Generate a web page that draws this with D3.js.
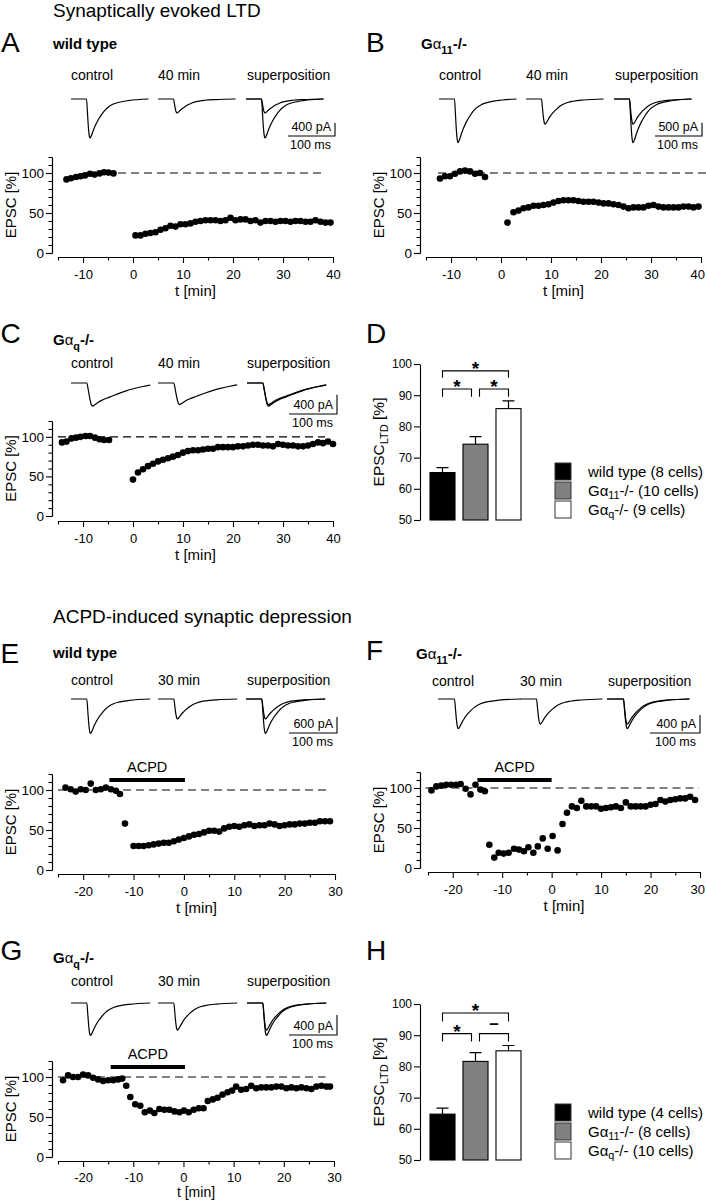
<!DOCTYPE html>
<html><head><meta charset="utf-8">
<script src="https://cdn.jsdelivr.net/npm/d3@7"></script>
<style>
body{margin:0;background:#fff}
svg{display:block}
text{font-family:"Liberation Sans",Arial,Helvetica,sans-serif;fill:#000}
</style>
</head><body>
<svg id="fig" width="706" height="1200"></svg>
<script>
// ---------------- DATA ----------------
const sectionTitles = ["Synaptically evoked LTD", "ACPD-induced synaptic depression"];
const genotypes = [["wild type"], ["Gα", "11", "-/-"], ["Gα", "q", "-/-"]];
const traceLabelsLTD = ["control", "40 min", "superposition"];
const traceLabelsACPD = ["control", "30 min", "superposition"];
const scaleBarMs = 100;

// EPSC waveform samples (time in ms from trace start, fraction of peak amplitude)
const fastShapeT = [0, 33, 35, 37, 39, 40.5, 43, 47, 51, 58, 65, 72, 79, 90, 100, 122, 165];
const fastShapeF = [0, 0, 0.35, 0.72, 0.95, 1, 0.95, 0.82, 0.70, 0.53, 0.40, 0.29, 0.21, 0.13, 0.09, 0.04, 0];
const slowShapeT = [0, 33, 36, 39, 42, 45, 50, 57, 65, 75, 85, 100, 115, 130, 150, 165];
const slowShapeF = [0, 0, 0.3, 0.65, 0.92, 1, 0.93, 0.83, 0.74, 0.65, 0.57, 0.45, 0.34, 0.25, 0.15, 0.09];

// trace amplitudes in pA: [control, late]
const A_amp = [1200, 430], B_amp = [1640, 950], C_amp = [480, 450];
const E_amp = [1290, 750], F_amp = [660, 560], G_amp = [650, 545];
// scale bar amplitudes (pA)
const A_bar = 400, B_bar = 500, C_bar = 400, E_bar = 600, F_bar = 400, G_bar = 400;

// axis ticks
const ltdTicks = [-10, 0, 10, 20, 30, 40], ltdMinor = [-15, -5, 5, 15, 25, 35];
const acpdTicks = [-20, -10, 0, 10, 20, 30], acpdMinor = [-25, -15, -5, 5, 15, 25];
const epscTicks = [0, 50, 100], epscMinor = [10, 20, 30, 40, 60, 70, 80, 90, 110, 120];
const ltdBarTicks = [50, 60, 70, 80, 90, 100];

// time courses: t [min], EPSC [%]
const A_preT = [-13.3, -12.4, -11.4, -10.5, -9.6, -8.6, -7.7, -6.7, -5.8, -4.9, -3.9];
const A_preV = [92, 93.5, 95, 96, 97, 99, 98, 99.5, 101, 100.5, 99.5];
const A_postT = [0.5, 1.5, 2.5, 3.5, 4.5, 5.5, 6.5, 7.5, 8.5, 9.5, 10.5, 11.5, 12.5, 13.5, 14.5, 15.5, 16.5, 17.5, 18.5, 19.5, 20.5, 21.5, 22.5, 23.5, 24.5, 25.5, 26.5, 27.5, 28.5, 29.5, 30.5, 31.5, 32.5, 33.5, 34.5, 35.5, 36.5, 37.5, 38.5, 39.5];
const A_postV = [22, 22, 24, 25, 26, 29, 31, 34, 33, 36, 36, 37, 39, 40, 41, 41, 41, 40, 41, 44, 41, 42, 42, 40, 41, 38, 40, 40, 39, 40, 40, 39, 40, 40, 39, 39, 41, 39, 38, 38];

const B_preT = [-12.2, -11.2, -10.2, -9.2, -8.2, -7.2, -6.2, -5.2, -4.2, -3.2];
const B_preV = [93, 96, 96, 99, 102, 103, 102, 99, 100, 95];
const B_postT = [1.3, 2.5, 3.5, 4.5, 5.5, 6.5, 7.5, 8.5, 9.5, 10.5, 11.5, 12.5, 13.5, 14.5, 15.5, 16.5, 17.5, 18.5, 19.5, 20.5, 21.5, 22.5, 23.5, 24.5, 25.5, 26.5, 27.5, 28.5, 29.5, 30.5, 31.5, 32.5, 33.5, 34.5, 35.5, 36.5, 37.5, 38.5, 39.5];
const B_postV = [38, 51, 53, 56, 57, 59, 59, 60, 61, 63, 65, 66, 66, 66, 65, 64, 64, 64, 63, 62, 62, 61, 60, 58, 56, 57, 57, 57, 59, 60, 58, 57, 57, 57, 57, 58, 58, 57, 58];

const C_preT = [-14.2, -13.3, -12.3, -11.4, -10.5, -9.5, -8.6, -7.6, -6.7, -5.8, -4.8];
const C_preV = [93, 94, 98, 99, 100, 101, 101, 99, 97, 96, 96];
const C_postT = [0, 1, 2, 3, 4, 5, 6, 7, 8, 9, 10, 11, 12, 13, 14, 15, 16, 17, 18, 19, 20, 21, 22, 23, 24, 25, 26, 27, 28, 29, 30, 31, 32, 33, 34, 35, 36, 37, 38, 39, 40];
const C_postV = [46, 55, 59, 63, 66, 69, 71, 73, 75, 77, 80, 82, 83, 83, 84, 85, 85, 87, 87, 87, 87, 88, 88, 89, 90, 90, 89, 89, 88, 91, 90, 89, 89, 88, 88, 89, 91, 93, 92, 94, 91];

const E_preT = [-23.5, -22.5, -21.5, -20.5, -19.5, -18.5, -17.5, -16.5, -15.5, -14.5, -13.5, -12.7];
const E_preV = [103, 101, 98, 101, 100, 108, 100, 101, 103, 101, 99, 95];
const E_postT = [-11.7, -10, -9, -8, -7, -6, -5, -4, -3, -2, -1, 0, 1, 2, 3, 4, 5, 6, 7, 8, 9, 10, 11, 12, 13, 14, 15, 16, 17, 18, 19, 20, 21, 22, 23, 24, 25, 26, 27, 28, 29];
const E_postV = [58, 30, 30, 30, 31, 32, 33, 34, 34, 36, 38, 40, 42, 44, 45, 47, 49, 49, 48, 52, 54, 55, 54, 56, 57, 55, 56, 56, 58, 57, 55, 56, 57, 57, 58, 58, 59, 59, 61, 61, 61];

const F_preT = [-24.3, -23.3, -22.3, -21.3, -20.3, -19.3, -18.4, -17.4, -16.4, -15.4, -14.4, -13.5];
const F_preV = [97, 102, 103, 104, 104, 104, 105, 99, 92, 104, 98, 96];
const F_postT = [-12.6, -11.6, -10.7, -9.7, -8.7, -7.6, -6.6, -5.6, -4.7, -3.7, -2.8, -1.8, -0.8, 0.2, 1.2, 2.2, 3.1, 4.1, 5.1, 6.0, 7, 8, 9, 10, 11, 12, 13, 14, 15, 16, 17, 18, 19, 20, 21, 22, 23, 24, 25, 26, 27, 28, 29];
const F_postV = [29, 13, 19, 18, 19, 24, 23, 21, 26, 19, 27, 37, 24, 40, 22, 55, 69, 77, 75, 84, 77, 77, 77, 74, 75, 76, 77, 75, 82, 77, 77, 77, 77, 79, 80, 85, 83, 85, 86, 87, 87, 89, 85];

const G_preT = [-24, -23, -22, -21, -20, -19, -18, -17, -16, -15, -14, -13, -12.2];
const G_preV = [96, 102, 100, 100, 103, 102, 99, 97, 95, 96, 96, 97, 98];
const G_postT = [-11.4, -10.6, -9.6, -8.6, -7.7, -6.7, -5.8, -4.8, -3.8, -2.8, -1.8, -0.8, 0.1, 1.05, 2.05, 3.05, 4.0, 4.85, 5.85, 6.8, 7.8, 8.8, 9.7, 10.5, 11.5, 12.5, 13.5, 14.5, 15.5, 16.5, 17.5, 18.5, 19.5, 20.5, 21.5, 22.5, 23.5, 24.5, 25.5, 26.5, 27.5, 28.5, 29.2];
const G_postV = [89, 75, 66, 64, 56, 58, 55, 60, 59, 59, 57, 56, 58, 56, 59, 61, 61, 70, 72, 74, 78, 81, 83, 88, 84, 85, 89, 86, 87, 87, 87, 88, 88, 86, 87, 86, 87, 86, 85, 88, 89, 88, 88];

// reference (100 %) dashed line extent [min]
const A_ref = [-3, 38.5], B_ref = [-12.6, 41], C_ref = [-15, 38.4];
const E_ref = [-25, 28.3], F_ref = [-25.5, 29.8], G_ref = [-25, 28.3];
// ACPD application [min]
const E_acpd = [-14.8, 0.2], F_acpd = [-15, 0], G_acpd = [-14.5, 0.3];

// summary bars
const D_mean = [65.2, 74.3, 85.7], D_sem = [1.6, 2.4, 2.5], D_cells = [8, 10, 9];
const H_mean = [64.7, 81.6, 85.0], H_sem = [1.9, 2.8, 1.7], H_cells = [4, 8, 10];
// significance brackets: [from, to, top value, end value, label]
const D_sig = [[0, 2, 97.8, 95.6, "*"], [0, 1, 92, 89.5, "*"], [1, 2, 92, 89.5, "*"]];
const H_sig = [[0, 2, 97.1, 94.4, "*"], [0, 1, 90.5, 88, "*"], [1, 2, 90.5, 88, "–"]];
const barFills = ["#000000", "#808080", "#ffffff"];

// ---------------- DRAWING ----------------
const FONT = '"Liberation Sans", Arial, Helvetica, sans-serif';
const svg = d3.select("#fig");
const W = 706;

function genoText(g, x, y, parts, fs, bold, subDy) {
  const t = g.append("text").attr("x", x).attr("y", y).attr("font-size", fs)
    .attr("font-weight", bold ? "bold" : "normal");
  if (parts.length === 1) { t.append("tspan").text(parts[0]); return t; }
  t.append("tspan").text(parts[0][0]);
  t.append("tspan").attr("font-weight", "normal").text(parts[0].slice(1));
  t.append("tspan").attr("font-size", fs * 0.72).attr("dy", subDy).text(parts[1]);
  t.append("tspan").attr("dy", -subDy).text(parts[2]);
  return t;
}

function styleAxis(sel, fs) {
  sel.selectAll("path,line").attr("stroke", "#000").attr("stroke-width", 1.1);
  sel.selectAll("text").attr("font-size", fs).attr("font-family", FONT).attr("fill", "#000");
}

function keepInside(sel) {
  sel.selectAll("text").each(function () {
    const b = this.getBBox();
    const m = this.getCTM();
    const right = m.e + b.x + b.width;
    if (right > W - 1) d3.select(this).attr("dx", (W - 1 - right));
  });
}

function linePanel(p) {
  const g = svg.append("g");
  g.append("text").attr("x", p.letterXY[0]).attr("y", p.letterXY[1]).attr("font-size", 28).text(p.letter);
  genoText(g, p.genoXY[0], p.genoXY[1], p.geno, 15, true, 4.5);
  p.traceLabels.forEach((s, i) =>
    g.append("text").attr("x", p.labX[i]).attr("y", p.labY).attr("font-size", 14).text(s));

  // traces
  const tx = d3.scaleLinear().domain([0, scaleBarMs]).range([0, p.sbH]);
  const ty = d3.scaleLinear().domain([0, p.sbPA]).range([0, p.sbV]);
  const pts = d3.zip(p.shape[0], p.shape[1]);
  const mk = (x0, amp) => d3.line().x(d => x0 + tx(d[0])).y(d => p.trBase + ty(amp * d[1]))
    .curve(d3.curveMonotoneX)(pts);
  const tr = [[p.trX[0], p.amp[0]], [p.trX[1], p.amp[1]], [p.trX[2], p.amp[0]], [p.trX[2], p.amp[1]]];
  g.selectAll(null).data(tr).join("path").attr("d", d => mk(d[0], d[1]))
    .attr("fill", "none").attr("stroke", "#000").attr("stroke-width", 1.2);
  // scale bar
  g.append("path").attr("d", `M${p.sbX - p.sbH},${p.sbY}H${p.sbX}V${p.sbY - p.sbV}`)
    .attr("fill", "none").attr("stroke", "#000").attr("stroke-width", 1.1);
  g.append("text").attr("x", p.sbX - 4).attr("y", p.sbY - 5).attr("text-anchor", "end")
    .attr("font-size", 12.5).text(p.sbPA + " pA");
  g.append("text").attr("x", p.sbX - 4).attr("y", p.sbY + 13).attr("text-anchor", "end")
    .attr("font-size", 12.5).text(scaleBarMs + " ms");

  // plot
  const x = d3.scaleLinear().domain(p.xDom).range(p.xR);
  const y = d3.scaleLinear().domain([0, 120]).range([p.y0, p.y120]);
  const fmt = d => String(d);
  const ya = g.append("g").attr("transform", `translate(${p.yAxisX},0)`)
    .call(d3.axisLeft(y).tickValues(epscTicks).tickSize(6).tickSizeOuter(0).tickPadding(2).tickFormat(fmt));
  styleAxis(ya, 13.5);
  const ym = g.append("g").attr("transform", `translate(${p.yAxisX},0)`)
    .call(d3.axisLeft(y).tickValues(epscMinor).tickSize(3.5).tickSizeOuter(0).tickFormat(""));
  styleAxis(ym, 12);
  const xa = g.append("g").attr("transform", `translate(0,${p.xAxisY})`)
    .call(d3.axisBottom(x).tickValues(p.xTicks).tickSize(6).tickSizeOuter(0).tickPadding(p.tickPad || 7).tickFormat(fmt));
  styleAxis(xa, 13);
  keepInside(xa);
  const xm = g.append("g").attr("transform", `translate(0,${p.xAxisY})`)
    .call(d3.axisBottom(x).tickValues(p.xMinor).tickSize(3.5).tickSizeOuter(0).tickFormat(""));
  styleAxis(xm, 12);

  g.append("text").attr("transform", `translate(${p.yAxisX - 36},${(p.y0 + p.y120) / 2}) rotate(-90)`)
    .attr("text-anchor", "middle").attr("font-size", 15).text("EPSC [%]");
  g.append("text").attr("x", (p.xR[0] + p.xR[1]) / 2).attr("y", p.tY || (p.xAxisY + 39))
    .attr("text-anchor", "middle").attr("font-size", p.tFs || 15).text("t [min]");

  // reference line
  g.append("line").attr("x1", x(p.ref[0])).attr("x2", Math.min(x(p.ref[1]), W)).attr("y1", y(100)).attr("y2", y(100))
    .attr("stroke", "#000").attr("stroke-width", 1.1).attr("stroke-dasharray", "8,5");

  if (p.acpd) {
    g.append("line").attr("x1", x(p.acpd[0])).attr("x2", x(p.acpd[1])).attr("y1", p.acpdY).attr("y2", p.acpdY)
      .attr("stroke", "#000").attr("stroke-width", 4);
    g.append("text").attr("x", (x(p.acpd[0]) + x(p.acpd[1])) / 2).attr("y", p.acpdY - 8)
      .attr("text-anchor", "middle").attr("font-size", 14.5).text("ACPD");
  }

  const data = d3.zip(p.preT, p.preV).concat(d3.zip(p.postT, p.postV));
  g.selectAll(null).data(data).join("circle")
    .attr("cx", d => x(d[0])).attr("cy", d => y(d[1])).attr("r", 3.3).attr("fill", "#000");
}

function barPanel(p) {
  const g = svg.append("g");
  g.append("text").attr("x", p.letterXY[0]).attr("y", p.letterXY[1]).attr("font-size", 28).text(p.letter);
  const y = d3.scaleLinear().domain([50, 100]).range([p.y50, p.y100]);
  const x = d3.scaleBand().domain([0, 1, 2]).range(p.band).paddingInner(0.242).paddingOuter(0);
  const ya = g.append("g").attr("transform", `translate(${p.yAxisX},0)`)
    .call(d3.axisLeft(y).tickValues(ltdBarTicks).tickSize(6).tickSizeOuter(0).tickPadding(2));
  styleAxis(ya, 12);
  const yl = g.append("text").attr("transform", `translate(${p.yAxisX - 36},${(p.y50 + p.y100) / 2}) rotate(-90)`)
    .attr("text-anchor", "middle").attr("font-size", 15.5);
  yl.append("tspan").text("EPSC");
  yl.append("tspan").attr("font-size", 11).attr("dy", 4).text("LTD");
  yl.append("tspan").attr("dy", -4).text(" [%]");

  const cx = i => x(i) + x.bandwidth() / 2;
  // error bars
  g.selectAll(null).data(p.mean).join("path")
    .attr("d", (d, i) => `M${cx(i)},${y(d)}V${y(d + p.sem[i])}M${cx(i) - 6},${y(d + p.sem[i])}H${cx(i) + 6}`)
    .attr("stroke", "#000").attr("stroke-width", 1.2).attr("fill", "none");
  g.selectAll(null).data(p.mean).join("rect")
    .attr("x", (d, i) => x(i)).attr("width", x.bandwidth())
    .attr("y", d => y(d)).attr("height", d => y(50) - y(d))
    .attr("fill", (d, i) => barFills[i]).attr("stroke", "#000").attr("stroke-width", 1.1);

  // significance
  p.sig.forEach(s => {
    let x1 = cx(s[0]), x2 = cx(s[1]);
    if (s[1] - s[0] === 1) { if (s[0] === 1) x1 += 4; if (s[1] === 1) x2 -= 4; }
    g.append("path").attr("d", `M${x1},${y(s[3])}V${y(s[2])}H${x2}V${y(s[3])}`)
      .attr("fill", "none").attr("stroke", "#000").attr("stroke-width", 1.1);
    const star = s[4] === "*";
    g.append("text").attr("x", (x1 + x2) / 2).attr("y", star ? y(s[2]) + 4 : y(s[2]) - 5)
      .attr("text-anchor", "middle").attr("font-size", star ? 19 : 17).attr("font-weight", "bold").text(s[4]);
  });

  // legend
  genotypes.forEach((gt, i) => {
    const ty = p.legTop + i * 19;
    g.append("rect").attr("x", p.legX).attr("y", ty).attr("width", 16).attr("height", 17)
      .attr("fill", barFills[i]).attr("stroke", "#333").attr("stroke-width", 1);
    const t = genoText(g, p.legX + 33, ty + 14, gt, 15, false, 3);
    t.append("tspan").text(` (${p.cells[i]} cells)`);
  });
}

// section titles
svg.append("text").attr("x", 53).attr("y", 17).attr("font-size", 19).text(sectionTitles[0]);
svg.append("text").attr("x", 53).attr("y", 623).attr("font-size", 19).text(sectionTitles[1]);

const fast = [fastShapeT, fastShapeF], slow = [slowShapeT, slowShapeF];

linePanel({letter: "A", letterXY: [1, 52], geno: genotypes[0], genoXY: [53, 49],
  traceLabels: traceLabelsLTD, labY: 80, labX: [71, 158, 247], trBase: 99, trX: [71, 158, 246],
  shape: fast, amp: A_amp, sbPA: A_bar, sbX: 335, sbY: 136, sbV: 13, sbH: 47,
  xDom: [-15, 40], xR: [58, 333], xTicks: ltdTicks, xMinor: ltdMinor, y0: 253, y120: 157, yAxisX: 52, xAxisY: 257,
  ref: A_ref, preT: A_preT, preV: A_preV, postT: A_postT, postV: A_postV});

linePanel({letter: "B", letterXY: [366, 52], geno: genotypes[1], genoXY: [421, 49],
  traceLabels: traceLabelsLTD, labY: 80, labX: [439, 526, 615], trBase: 99, trX: [439, 526, 614],
  shape: fast, amp: B_amp, sbPA: B_bar, sbX: 702, sbY: 136, sbV: 13.3, sbH: 47,
  xDom: [-15, 40], xR: [426, 701], xTicks: ltdTicks, xMinor: ltdMinor, y0: 253, y120: 157, yAxisX: 420, xAxisY: 257,
  ref: B_ref, preT: B_preT, preV: B_preV, postT: B_postT, postV: B_postV});

linePanel({letter: "C", letterXY: [0.5, 343], geno: genotypes[2], genoXY: [53, 345],
  traceLabels: traceLabelsLTD, labY: 368, labX: [71, 158, 247], trBase: 383, trX: [71, 158, 247],
  shape: slow, amp: C_amp, sbPA: C_bar, sbX: 337, sbY: 414, sbV: 19.3, sbH: 48,
  xDom: [-15, 40], xR: [58, 333], xTicks: ltdTicks, xMinor: ltdMinor, y0: 516, y120: 421, yAxisX: 52, xAxisY: 521,
  ref: C_ref, preT: C_preT, preV: C_preV, postT: C_postT, postV: C_postV});

barPanel({letter: "D", letterXY: [366, 343], yAxisX: 420, y50: 520, y100: 364, band: [430, 521],
  mean: D_mean, sem: D_sem, sig: D_sig, legX: 555, legTop: 463, cells: D_cells});

linePanel({letter: "E", letterXY: [0.5, 663], geno: genotypes[0], genoXY: [53, 658],
  traceLabels: traceLabelsACPD, labY: 685, labX: [71, 158, 247], trBase: 699, trX: [71, 158, 246],
  shape: fast, amp: E_amp, sbPA: E_bar, sbX: 337, sbY: 733, sbV: 16, sbH: 48,
  xDom: [-25, 30], xR: [58, 335], xTicks: acpdTicks, xMinor: acpdMinor, y0: 870, y120: 774, yAxisX: 52, xAxisY: 874,
  ref: E_ref, acpd: E_acpd, acpdY: 780, preT: E_preT, preV: E_preV, postT: E_postT, postV: E_postV});

linePanel({letter: "F", letterXY: [366, 660], geno: genotypes[1], genoXY: [416, 659],
  traceLabels: traceLabelsACPD, labY: 686, labX: [432, 520, 608], trBase: 699, trX: [438, 520, 607],
  shape: fast, amp: F_amp, sbPA: F_bar, sbX: 700, sbY: 733, sbV: 18, sbH: 50,
  xDom: [-25, 30], xR: [428, 700], xTicks: acpdTicks, xMinor: acpdMinor, y0: 868, y120: 772, yAxisX: 420, xAxisY: 872,
  ref: F_ref, acpd: F_acpd, acpdY: 780, preT: F_preT, preV: F_preV, postT: F_postT, postV: F_postV});

linePanel({letter: "G", letterXY: [0.5, 960], geno: genotypes[2], genoXY: [53, 963],
  traceLabels: traceLabelsACPD, labY: 986, labX: [71, 158, 247], trBase: 1003, trX: [71, 158, 247],
  shape: fast, amp: G_amp, sbPA: G_bar, sbX: 337, sbY: 1035, sbV: 20, sbH: 48,
  xDom: [-25, 30], xR: [58, 334], xTicks: acpdTicks, xMinor: acpdMinor, y0: 1157, y120: 1061, yAxisX: 52, xAxisY: 1161,
  tickPad: 5.5, tY: 1197, tFs: 14,
  ref: G_ref, acpd: G_acpd, acpdY: 1067, preT: G_preT, preV: G_preV, postT: G_postT, postV: G_postV});

barPanel({letter: "H", letterXY: [366, 960], yAxisX: 420, y50: 1160, y100: 1004, band: [430, 521],
  mean: H_mean, sem: H_sem, sig: H_sig, legX: 555, legTop: 1104, cells: H_cells});
</script>
</body></html>
